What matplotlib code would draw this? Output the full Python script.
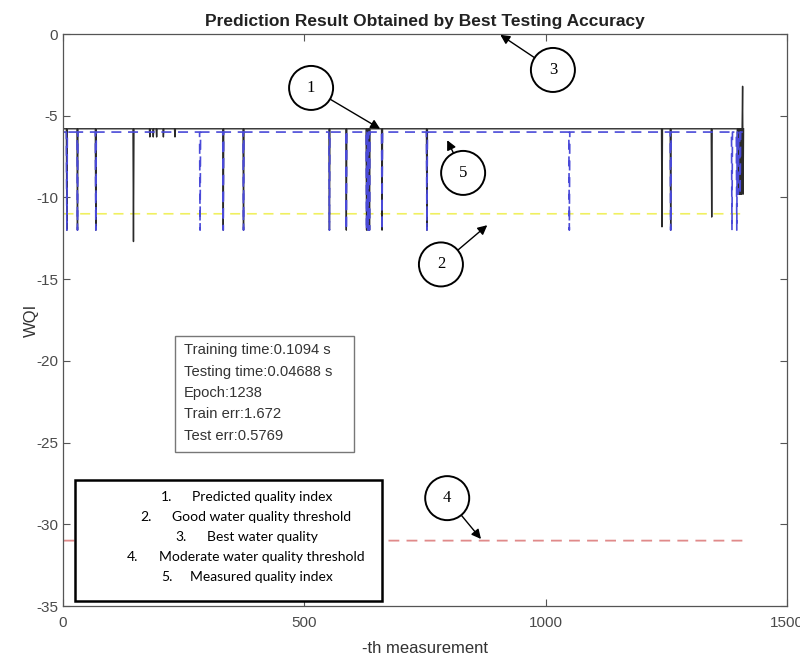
import matplotlib.pyplot as plt
from matplotlib.patches import Ellipse, Rectangle

plt.rcParams['axes.unicode_minus'] = False

# Data
n_points = 1410
pred_base = -5.8
meas_base = -6.0
good_threshold = -11.0
moderate_threshold = -31.0
best_quality = 0.0

# predicted (black solid) dips: index -> value
pred_spikes = {8: -12.0, 30: -12.0, 68: -12.0, 146: -12.7, 180: -6.3, 187: -6.3,
               194: -6.3, 208: -6.3, 232: -6.3, 332: -12.0, 374: -12.0, 552: -12.0,
               587: -12.0, 629: -12.0, 632: -12.0, 635: -12.0, 661: -12.0,
               754: -12.0, 1241: -11.8, 1259: -12.0, 1344: -11.2,
               1398: -9.8, 1400: -9.8, 1402: -9.8, 1404: -9.8, 1406: -9.8,
               1408: -3.2, 1409: -9.8}
# measured (blue dashed) dips
meas_spikes = {8: -12.0, 30: -12.0, 68: -12.0, 284: -12.0, 332: -12.0,
               374: -12.0, 552: -12.0, 587: -12.0, 629: -12.0, 632: -12.0,
               635: -12.0, 661: -12.0, 754: -12.0, 1049: -12.0, 1259: -12.0,
               1386: -12.0, 1396: -12.0, 1399: -9.8, 1403: -9.8}

idx = list(range(1, n_points + 1))
predicted = [pred_spikes.get(i, pred_base) for i in idx]
measured = [meas_spikes.get(i, meas_base) for i in idx]

stats_lines = ["Training time:0.1094 s", "Testing time:0.04688 s", "Epoch:1238",
               "Train err:1.672", "Test err:0.5769"]
key_labels = ["Predicted quality index", "Good water quality threshold",
              "Best water quality", "Moderate water quality threshold",
              "Measured quality index"]

fig = plt.figure(figsize=(8, 6.55), dpi=100)
ax = fig.add_axes([63 / 800, 1 - 606 / 655, 724 / 800, 572 / 655])

ax.plot(idx, [best_quality] * n_points, color='#2fb62f', lw=1.2)
ax.plot(idx, [good_threshold] * n_points, color='#f0f060', lw=1.2, ls=(0, (6, 4)))
ax.plot(idx, [moderate_threshold] * n_points, color='#e08a8a', lw=1.3, ls=(0, (6, 4)))
ax.plot(idx, predicted, color='#2a2a2a', lw=1.0)
ax.plot(idx, measured, color='#4a4ad8', lw=1.2, ls=(0, (6, 4)))

ax.set_xlim(0, 1500)
ax.set_ylim(-35, 0)
ax.set_xticks([0, 500, 1000, 1500])
ax.set_yticks([0, -5, -10, -15, -20, -25, -30, -35])
ax.tick_params(direction='in', length=5, top=True, right=True,
               labelsize=11, colors='#555555', labelcolor='#4a4a4a')
ax.tick_params(axis='x', pad=7)
for s in ax.spines.values():
    s.set_color('#555555')
    s.set_linewidth(0.9)

ax.set_title("Prediction Result Obtained by Best Testing Accuracy",
             fontsize=12.5, fontweight='bold', family='Liberation Sans',
             color='#222222', pad=6)
ax.set_xlabel("-th measurement", fontsize=12, family='Liberation Sans',
              color='#333333', labelpad=8)
ax.set_ylabel("WQI", fontsize=12, family='Liberation Sans', color='#333333',
              labelpad=-2)
for lab in ax.get_xticklabels() + ax.get_yticklabels():
    lab.set_family('Liberation Sans')

# stats box
fig.add_artist(Rectangle((175 / 800, 1 - 452 / 655), 179 / 800, 116 / 655,
                         transform=fig.transFigure, fill=True, facecolor='white',
                         edgecolor='#777777', lw=1.0))
for k, line in enumerate(stats_lines):
    fig.text(184 / 800, 1 - (350 + k * 21.5) / 655, line, fontsize=10.6,
             family='Liberation Sans', color='#333333', va='center')

# numbered key box
fig.add_artist(Rectangle((75 / 800, 1 - 601 / 655), 307 / 800, 121 / 655,
                         transform=fig.transFigure, fill=True, facecolor='white',
                         edgecolor='black', lw=1.8))
num_x = [161, 140, 175, 127, 161]
txt_x = [192, 172, 207, 159, 190]
for k, lab in enumerate(key_labels):
    y = 1 - (497 + k * 20) / 655
    fig.text(num_x[k] / 800, y, f"{k + 1}.", fontsize=10, family='Lato', va='center')
    fig.text(txt_x[k] / 800, y, lab, fontsize=10, family='Lato', va='center')

# circled callouts: (label, circle centre, arrow head) in data units
callouts = [("1", (514, -3.3), (657, -5.8)),
            ("3", (1015, -2.2), (906, -0.05)),
            ("5", (829, -8.5), (796, -6.5)),
            ("2", (783, -14.1), (879, -11.7)),
            ("4", (796, -28.4), (866, -30.9))]
for lab, c, head in callouts:
    ax.add_patch(Ellipse(c, 44 / 0.4825, 44 / 16.34, fill=False,
                         edgecolor='black', lw=1.4, zorder=5))
    ax.text(c[0], c[1], lab, ha='center', va='center', fontsize=12,
            family='Liberation Serif', zorder=6)
    ax.annotate('', xy=head, xytext=c,
                arrowprops=dict(arrowstyle='-|>', color='black', lw=1.0,
                                mutation_scale=14, shrinkA=16, shrinkB=0),
                zorder=6)

fig.savefig("out.png", dpi=100)
